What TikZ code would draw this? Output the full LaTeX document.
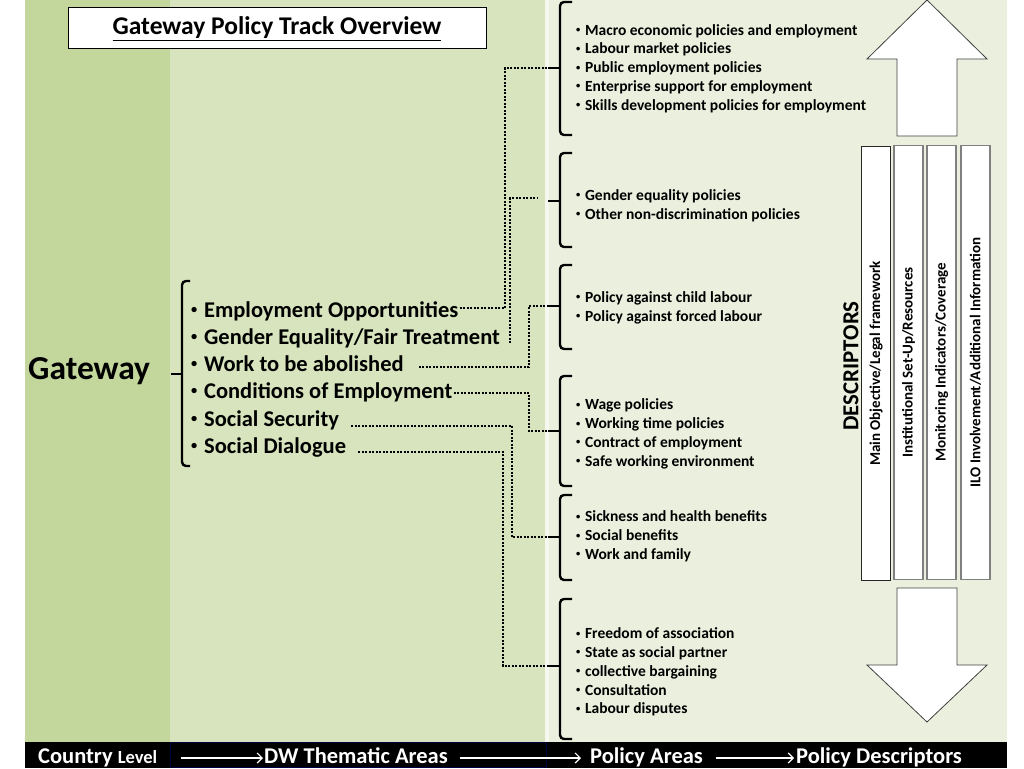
\documentclass[tikz,border=0pt]{standalone}
\usepackage{fontspec}
\usepackage{graphicx}
\setmainfont{Carlito}
\usetikzlibrary{arrows.meta,calc}
\definecolor{gdark}{HTML}{C3D69B}
\definecolor{glight}{HTML}{D7E4BD}
\definecolor{gpanel}{HTML}{EBF0DE}
\definecolor{arrowedge}{HTML}{404040}
\newcommand{\bul}{\raisebox{0.17em}{\scalebox{0.55}{•}}\hspace{0.3em}}
\begin{document}
\begin{tikzpicture}[x=1pt,y=-1pt,
  brace/.style={draw=black,line width=2.4pt,rounded corners=4pt},
  conn/.style={draw=black,line width=2pt,dash pattern=on 2pt off 1.5pt},
  theme/.style={font=\bfseries\fontsize{22.5}{26}\selectfont,anchor=base west,inner sep=0pt},
  pol/.style={font=\bfseries\fontsize{15.5}{18.8}\selectfont,align=left,anchor=west,inner sep=0pt},
  desc/.style={draw=gray,line width=1.2pt,fill=white,rotate=90,minimum width=434pt,minimum height=29pt,inner sep=0pt,font=\bfseries\fontsize{15}{18}\selectfont},
  bartext/.style={text=white,font=\bfseries\fontsize{22.5}{26}\selectfont,anchor=base west,inner sep=0pt,text height=14pt,text depth=4pt},
  barrow/.style={draw=white,line width=1.2pt,-{Straight Barb[length=5pt,width=10pt]}},
  blockarrow/.style={fill=white,draw=arrowedge,line width=0.8pt}]
\useasboundingbox (0,0) rectangle (1024,768);
\fill[white] (0,0) rectangle (1024,768);
\fill[gdark] (25,0) rectangle (170,742);
\fill[glight] (170,0) rectangle (546,742);
\fill[gpanel] (546,0) rectangle (1007,742);
\fill[white!55!gpanel] (545,0) rectangle (549,742);
\fill[black] (25,742) rectangle (1007,768);
\draw[blue!25!black,line width=0.8pt] (170,742.5) rectangle (546,767.5);

% title
\node[draw=black,fill=white,line width=1pt,minimum width=418pt,minimum height=41pt,
  font=\bfseries\fontsize{25.5}{29}\selectfont] (title) at (277,28.5) {\underline{Gateway Policy Track Overview}};

% country level
\node[font=\bfseries\fontsize{33.5}{38}\selectfont,anchor=base west,inner sep=0pt] (gw) at (28,379) {Gateway};
\draw[brace] (190,281) -- (182,281) -- (182,466) -- (190,466);
\draw[brace] (182,374) -- (171,374);

% thematic areas
\node[theme] (t1) at (191,317) {\bul Employment Opportunities};
\node[theme] (t2) at (191,344) {\bul Gender Equality/Fair Treatment};
\node[theme] (t3) at (191,371) {\bul Work to be abolished};
\node[theme] (t4) at (191,398) {\bul Conditions of Employment};
\node[theme] (t5) at (191,426) {\bul Social Security};
\node[theme] (t6) at (191,453) {\bul Social Dialogue};

% policy area braces
\coordinate (b1) at (548,68);
\coordinate (b2) at (548,201);
\coordinate (b3) at (548,306);
\coordinate (b4) at (548,431);
\coordinate (b5) at (548,537);
\coordinate (b6) at (548,666);
\draw[brace] (572,2) -- (560,2) -- (560,135) -- (572,135);   \draw[brace] (560,68) -- (b1);
\draw[brace] (572,153) -- (560,153) -- (560,247) -- (572,247); \draw[brace] (560,201) -- (b2);
\draw[brace] (572,265) -- (560,265) -- (560,349) -- (572,349); \draw[brace] (560,306) -- (b3);
\draw[brace] (572,376) -- (560,376) -- (560,486) -- (572,486); \draw[brace] (560,431) -- (b4);
\draw[brace] (572,495) -- (560,495) -- (560,580) -- (572,580); \draw[brace] (560,537) -- (b5);
\draw[brace] (572,599) -- (560,599) -- (560,739) -- (572,739); \draw[brace] (560,666) -- (b6);

% policy areas
\node[pol] (p1) at (576,68.5) {\bul Macro economic policies and employment\\\bul Labour market policies\\\bul Public employment policies\\\bul Enterprise support for employment\\\bul Skills development policies for employment};
\node[pol] (p2) at (576,205.5) {\bul Gender equality policies\\\bul Other non-discrimination policies};
\node[pol] (p3) at (576,307.5) {\bul Policy against child labour\\\bul Policy against forced labour};
\node[pol] (p4) at (576,434) {\bul Wage policies\\\bul Working time policies\\\bul Contract of employment\\\bul Safe working environment};
\node[pol] (p5) at (576,536.5) {\bul Sickness and health benefits\\\bul Social benefits\\\bul Work and family};
\node[pol] (p6) at (576,672) {\bul Freedom of association\\\bul State as social partner\\\bul collective bargaining\\\bul Consultation\\\bul Labour disputes};

% dotted connectors
\coordinate (s1) at ($(t1.base east)+(1,-9)$);
\coordinate (s2) at ($(t2.base east)+(10,-1)$);
\coordinate (s3) at ($(t3.base east)+(15,-4)$);
\coordinate (s4) at ($(t4.base east)+(1,-5)$);
\coordinate (s5) at ($(t5.base east)+(12,0)$);
\coordinate (s6) at ($(t6.base east)+(12,-1)$);
\coordinate (e2) at ($(b2)+(-11,-3)$);
\draw[conn] (s1) -| ($(b1)+(-43,0)$) -- (b1);
\draw[conn] (s2) |- (e2);
\draw[conn] (s3) -| ($(b3)+(-19,0)$) -- (b3);
\draw[conn] (s4) -| ($(b4)+(-19,0)$) -- (b4);
\draw[conn] (s5) -| ($(b5)+(-36,0)$) -- (b5);
\draw[conn] (s6) -| ($(b6)+(-45,0)$) -- (b6);

% block arrows
\draw[blockarrow] (927,0) -- (987,59) -- (957,59) -- (957,136) -- (897,136) -- (897,59) -- (867,59) -- cycle;
\draw[blockarrow] (897,588) -- (957,588) -- (957,665) -- (987,665) -- (927,722) -- (867,665) -- (897,665) -- cycle;

% descriptors
\node[rotate=90,font=\bfseries\fontsize{22.9}{26}\selectfont,inner sep=0pt] (descr) at (851,366) {DESCRIPTORS};
\node[desc,draw=black!85] (d1) at (876,363.5) {Main Objective/Legal framework};
\node[desc] (d2) at (908.5,362.5) {Institutional Set-Up/Resources};
\node[desc] (d3) at (941.5,362.5) {Monitoring Indicators/Coverage};
\node[desc] (d4) at (975.5,362.5) {ILO Involvement/Additional Information};

% bottom bar
\node[bartext] (n1) at (38,763) {Country {\fontsize{18.5}{22}\selectfont Level}};
\node[bartext] (n2) at (264,763) {DW Thematic Areas};
\node[bartext] (n3) at (590,763) {Policy Areas};
\node[bartext] (n4) at (796,763) {Policy Descriptors};
\draw[barrow,shorten <=24pt,shorten >=1pt] (n1.east) -- (n2.west);
\draw[barrow,shorten <=12pt,shorten >=9pt] (n2.east) -- (n3.west);
\draw[barrow,shorten <=13pt,shorten >=2pt] (n3.east) -- (n4.west);
\end{tikzpicture}
\end{document}
